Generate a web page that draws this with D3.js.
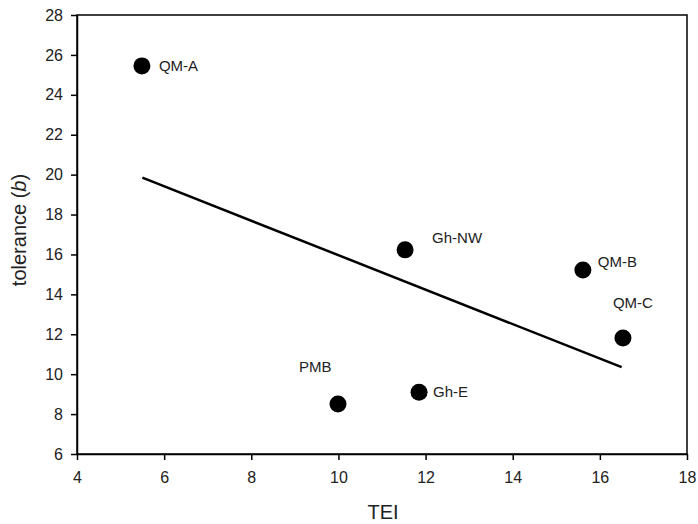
<!DOCTYPE html>
<html>
<head>
<meta charset="utf-8">
<script src="https://cdn.jsdelivr.net/npm/d3@7"></script>
<style>
  body { margin: 0; background: #fff; }
  text { font-family: "Liberation Sans", Arial, sans-serif; fill: #222; }
</style>
</head>
<body>
<svg width="698" height="524"></svg>
<script>
// sites and their values
var sites = ["QM-A", "Gh-NW", "QM-B", "QM-C", "PMB", "Gh-E"];
var tei = [5.49, 11.53, 15.61, 16.53, 9.99, 11.85];
var tolerance = [25.45, 16.23, 15.22, 11.81, 8.5, 9.1];

// fitted line end points
var fitX = [5.5, 16.5];
var fitY = [19.85, 10.35];

var xTicks = [4, 6, 8, 10, 12, 14, 16, 18];
var yTicks = [6, 8, 10, 12, 14, 16, 18, 20, 22, 24, 26, 28];

// label placement relative to each point
var labelOffsets = {
  "QM-A": [17, 0], "Gh-NW": [27, -12], "QM-B": [15, -8],
  "QM-C": [-10, -35], "PMB": [-39, -37], "Gh-E": [14, 0]
};

var svg = d3.select("svg");
var pLeft = 77, pRight = 687, pTop = 15, pBottom = 454;

var x = d3.scaleLinear().domain([4, 18]).range([pLeft, pRight]);
var y = d3.scaleLinear().domain([6, 28]).range([pBottom, pTop]);

// frame
svg.append("rect")
   .attr("x", pLeft).attr("y", pTop)
   .attr("width", pRight - pLeft).attr("height", pBottom - pTop)
   .attr("fill", "none").attr("stroke", "#000").attr("stroke-width", 1.5);

var xAxis = svg.append("g")
   .attr("transform", "translate(0," + pBottom + ")")
   .call(d3.axisBottom(x).tickValues(xTicks).tickSize(6).tickPadding(12).tickSizeOuter(0));
var yAxis = svg.append("g")
   .attr("transform", "translate(" + pLeft + ",0)")
   .call(d3.axisLeft(y).tickValues(yTicks).tickSize(6).tickPadding(8).tickSizeOuter(0));

[xAxis, yAxis].forEach(function (a) {
  a.select(".domain").attr("stroke", "#000").attr("stroke-width", 1.5);
  a.selectAll(".tick line").attr("stroke", "#000").attr("stroke-width", 1.5);
  a.selectAll(".tick text").attr("font-size", "16px").attr("fill", "#222")
   .attr("font-family", "Liberation Sans, Arial, sans-serif");
});

// regression line
svg.append("path")
   .datum(d3.zip(fitX, fitY))
   .attr("d", d3.line().x(function (d) { return x(d[0]); }).y(function (d) { return y(d[1]); }))
   .attr("stroke", "#000").attr("stroke-width", 2.5).attr("fill", "none");

var pts = d3.range(sites.length);

svg.append("g").selectAll("circle")
   .data(pts)
   .enter()
   .append("circle")
   .attr("cx", function (i) { return x(tei[i]); })
   .attr("cy", function (i) { return y(tolerance[i]); })
   .attr("r", 8.5)
   .attr("fill", "#000");

svg.append("g").selectAll("text")
   .data(pts)
   .enter()
   .append("text")
   .attr("x", function (i) { return x(tei[i]) + labelOffsets[sites[i]][0]; })
   .attr("y", function (i) { return y(tolerance[i]) + labelOffsets[sites[i]][1]; })
   .attr("dy", "0.35em")
   .attr("font-size", "15px")
   .text(function (i) { return sites[i]; });

// axis titles
svg.append("text")
   .attr("x", 383)
   .attr("y", 519)
   .attr("text-anchor", "middle")
   .attr("font-size", "20px")
   .text("TEI");

var yt = svg.append("text")
   .attr("transform", "translate(26,230) rotate(-90)")
   .attr("text-anchor", "middle")
   .attr("font-size", "20px");
yt.append("tspan").text("tolerance (");
yt.append("tspan").attr("font-style", "italic").text("b");
yt.append("tspan").text(")");
</script>
</body>
</html>
